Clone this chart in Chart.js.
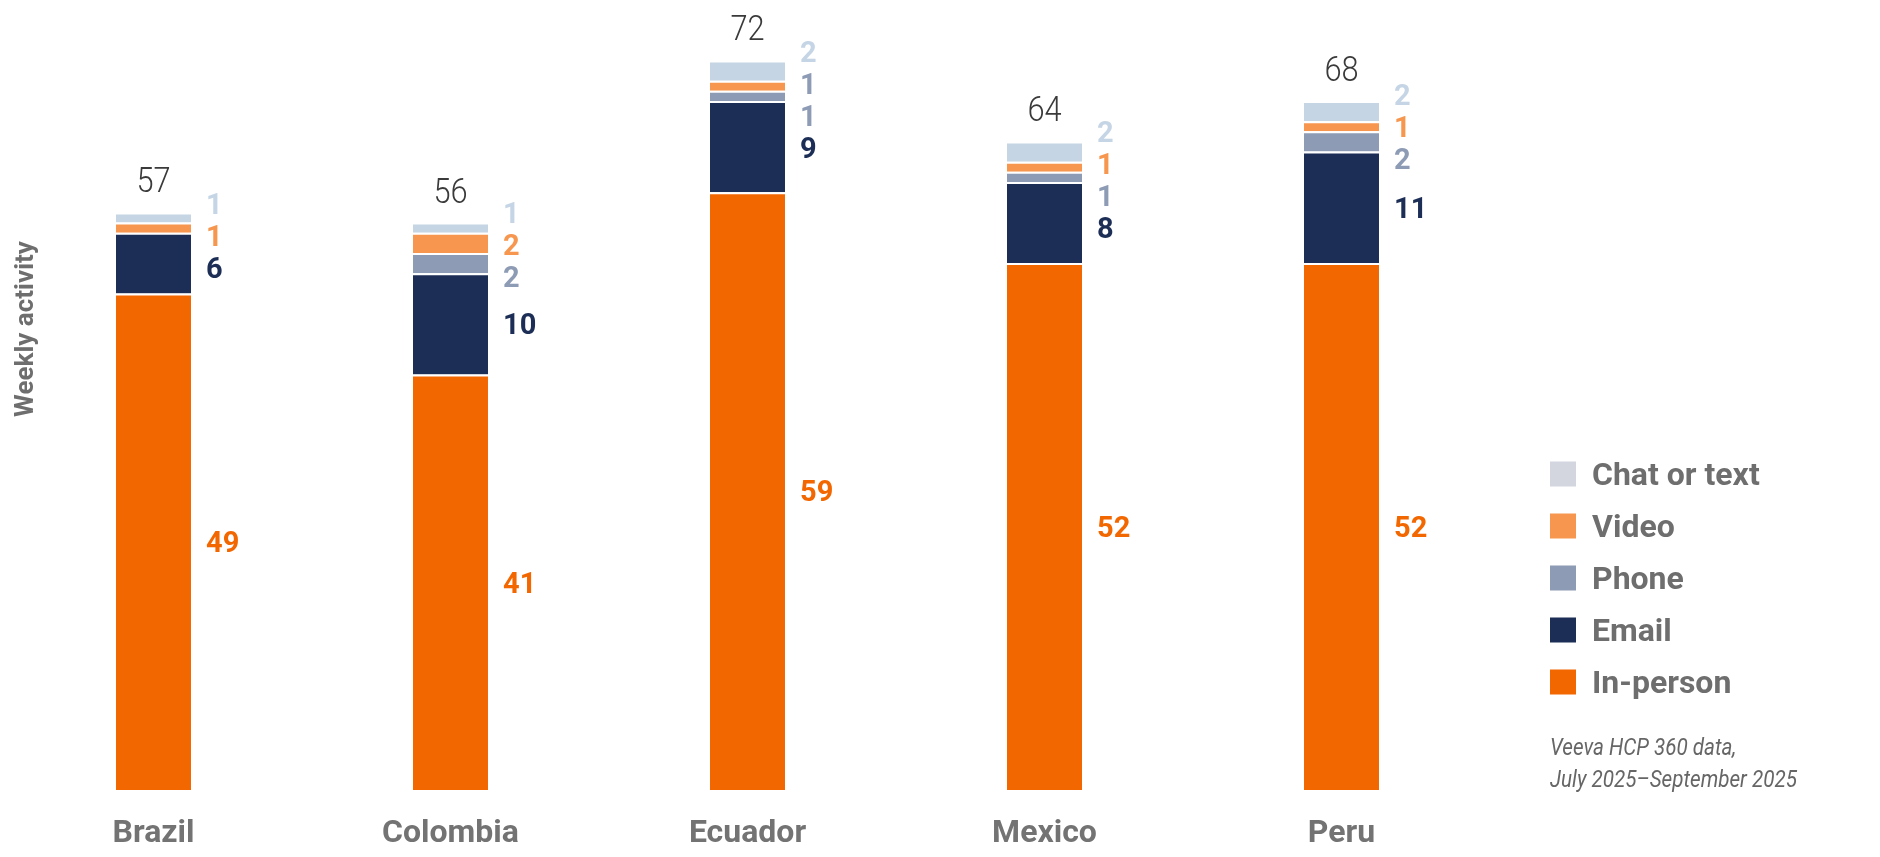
<!DOCTYPE html>
<html>
<head>
<meta charset="utf-8">
<title>Weekly activity by channel</title>
<script src="https://cdn.jsdelivr.net/npm/chart.js@4.4.1/dist/chart.umd.min.js"></script>
<style>
  html, body { margin: 0; padding: 0; background: #fff; }
  #chart { display: block; }
</style>
</head>
<body>
<canvas id="chart" width="1880" height="857"></canvas>
<script>
// Countries and weekly activity per channel
const categories = ['Brazil', 'Colombia', 'Ecuador', 'Mexico', 'Peru'];
const inPerson = [49, 41, 59, 52, 52];
const email = [6, 10, 9, 8, 11];
const phone = [0, 2, 1, 1, 2];
const video = [1, 2, 1, 1, 1];
const chatOrText = [1, 1, 2, 2, 2];
const totals = [57, 56, 72, 64, 68];

const axisTitle = 'Weekly activity';
const sourceLines = ['Veeva HCP 360 data,', 'July 2025\u2013September 2025'];

const GREY = '#6e6e6e';
const FONT = "Roboto, 'Noto Sans', sans-serif";

const ORANGE = '#f36700';
const NAVY = '#1c2e55';
const SLATE = '#8d9bb4';
const PEACH = '#f7964e';
const ICE = '#c6d5e3';

/**
 * Draw text squeezed horizontally to mimic a condensed face
 */
function drawText(ctx, text, x, y, font, color, align, squeeze) {
    ctx.save();
    ctx.font = font;
    ctx.fillStyle = color;
    ctx.textAlign = align;
    ctx.textBaseline = 'alphabetic';
    ctx.translate(x, y);
    ctx.scale(squeeze, 1);
    ctx.fillText(text, 0, 0);
    ctx.restore();
}

/**
 * Push overlapping labels apart: neighbours closer than gap are merged into
 * a group that is centred on the mean of its members
 */
function spreadLabels(items, gap) {
    const groups = items.map(it => ({ members: [it], center: it.y }));
    let merged = true;
    while (merged) {
        merged = false;
        for (let g = 0; g < groups.length - 1; g++) {
            const a = groups[g];
            const b = groups[g + 1];
            const aBottom = a.center + (a.members.length - 1) * gap / 2;
            const bTop = b.center - (b.members.length - 1) * gap / 2;
            if (bTop - aBottom < gap) {
                const members = a.members.concat(b.members);
                const center = members.reduce((s, m) => s + m.y, 0) / members.length;
                groups.splice(g, 2, { members: members, center: center });
                merged = true;
                break;
            }
        }
    }
    groups.forEach(g => {
        g.members.forEach((m, k) => {
            m.ly = g.center + (k - (g.members.length - 1) / 2) * gap;
        });
    });
}

// Value labels beside the bars, totals on top, axis title, legend and source
const annotationsPlugin = {
    id: 'annotations',
    afterDatasetsDraw(chart) {
        const ctx = chart.ctx;
        const datasets = chart.data.datasets;

        chart.data.labels.forEach((label, i) => {
            const items = [];
            let topY = Infinity;
            let barX = 0;
            datasets.forEach((ds, d) => {
                const bar = chart.getDatasetMeta(d).data[i];
                topY = Math.min(topY, bar.y);
                barX = bar.x;
                const v = ds.data[i];
                if (!v) return;
                const color = Array.isArray(ds.labelColor) ? ds.labelColor[i] : ds.labelColor;
                items.push({
                    text: String(v),
                    y: (bar.y + bar.base) / 2,
                    x: bar.x + bar.width / 2 + 15,
                    color: color
                });
            });
            items.sort((a, b) => a.y - b.y);
            spreadLabels(items, 32);
            items.forEach(it => {
                drawText(ctx, it.text, it.x, it.ly + 10.3, 'bold 29px ' + FONT, it.color, 'left', 1);
            });
            // total above the stack
            drawText(ctx, String(totals[i]), barX, topY - 20, '300 35px ' + FONT, '#3a3a3a', 'center', 0.88);
        });

        // rotated y axis title
        ctx.save();
        ctx.translate(26, 329);
        ctx.rotate(-Math.PI / 2);
        ctx.font = 'bold 26px ' + FONT;
        ctx.fillStyle = GREY;
        ctx.textAlign = 'center';
        ctx.textBaseline = 'middle';
        ctx.fillText(axisTitle, 0, 0);
        ctx.restore();

        // legend, top row is the top of the stack
        const legendX = 1550;
        const legendY = 474;
        const rowGap = 52;
        datasets.slice().reverse().forEach((ds, k) => {
            const cy = legendY + k * rowGap;
            ctx.fillStyle = ds.legendColor || ds.backgroundColor;
            ctx.fillRect(legendX, cy - 12.5, 26, 25);
            drawText(ctx, ds.label, legendX + 42, cy + 11.4, 'bold 32px ' + FONT, GREY, 'left', 1);
        });

        // source note
        sourceLines.forEach((line, k) => {
            drawText(ctx, line, legendX, 755 + k * 32, 'italic 24px ' + FONT, '#666666', 'left', 0.86);
        });
    }
};

function makeDataset(label, data, color, labelColor, legendColor) {
    return {
        label: label,
        data: data,
        backgroundColor: color,
        labelColor: labelColor,
        legendColor: legendColor,
        borderColor: '#ffffff',
        borderWidth: { top: 2, right: 0, bottom: 0, left: 0 },
        barPercentage: 0.2525,
        categoryPercentage: 1
    };
}

const ctx = document.getElementById('chart').getContext('2d');
window.activityChart = new Chart(ctx, {
    type: 'bar',
    data: {
        labels: categories,
        datasets: [
            makeDataset('In-person', inPerson, ORANGE, ORANGE),
            makeDataset('Email', email, NAVY, NAVY),
            makeDataset('Phone', phone, SLATE, SLATE),
            // the Ecuador video label is printed in the phone colour in the original
            makeDataset('Video', video, PEACH, [PEACH, PEACH, SLATE, PEACH, PEACH]),
            makeDataset('Chat or text', chatOrText, ICE, '#c5d5e5', '#d3d6df')
        ]
    },
    options: {
        responsive: false,
        devicePixelRatio: 1,
        animation: false,
        layout: {
            padding: { left: 5, right: 390, top: 30, bottom: 4 }
        },
        scales: {
            x: {
                stacked: true,
                grid: { display: false, drawTicks: false },
                border: { display: false },
                ticks: {
                    padding: 25,
                    color: '#737373',
                    font: { family: FONT, size: 32, weight: 'bold' }
                },
                // keep the label band tight so the bars reach down to it
                afterFit(scale) {
                    scale.height = 63;
                }
            },
            y: {
                stacked: true,
                display: false,
                min: 0,
                max: 75
            }
        },
        plugins: {
            legend: { display: false },
            tooltip: { enabled: false }
        }
    },
    plugins: [annotationsPlugin]
});
</script>
</body>
</html>
